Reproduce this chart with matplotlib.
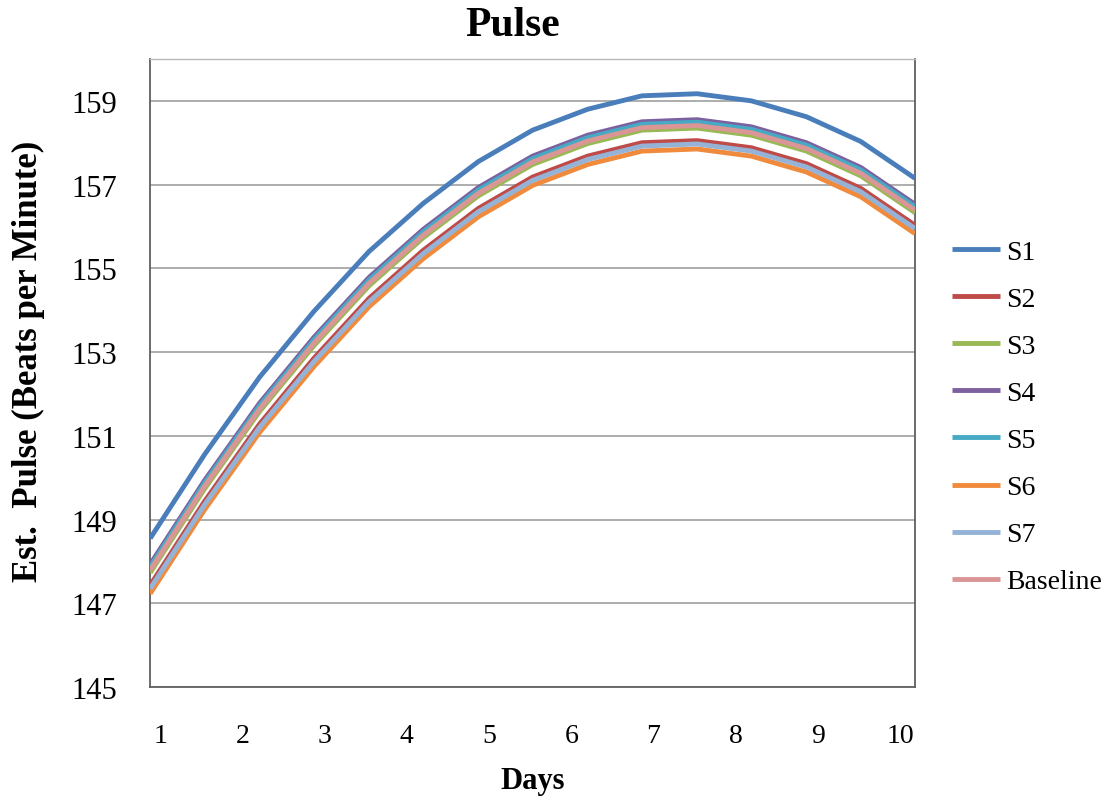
import matplotlib
matplotlib.use("Agg")
import matplotlib.pyplot as plt

# ---- data ----
days = [0.88, 1.54, 2.21, 2.87, 3.54, 4.20, 4.87, 5.53,
        6.20, 6.86, 7.53, 8.19, 8.86, 9.52, 10.18]

s1 = [148.55, 150.55, 152.40, 153.97, 155.40, 156.55, 157.55, 158.30,
      158.80, 159.12, 159.17, 159.00, 158.62, 158.03, 157.15]
s2 = [147.43, 149.43, 151.28, 152.85, 154.28, 155.43, 156.43, 157.18,
      157.68, 158.00, 158.05, 157.88, 157.50, 156.91, 156.03]
s3 = [147.73, 149.73, 151.58, 153.15, 154.58, 155.73, 156.73, 157.48,
      157.98, 158.30, 158.35, 158.18, 157.80, 157.21, 156.33]
s4 = [147.93, 149.93, 151.78, 153.35, 154.78, 155.93, 156.93, 157.68,
      158.18, 158.50, 158.55, 158.38, 158.00, 157.41, 156.53]
s5 = [147.87, 149.87, 151.72, 153.29, 154.72, 155.87, 156.87, 157.62,
      158.12, 158.44, 158.49, 158.32, 157.94, 157.35, 156.47]
s6 = [147.23, 149.23, 151.08, 152.65, 154.08, 155.23, 156.23, 156.98,
      157.48, 157.80, 157.85, 157.68, 157.30, 156.71, 155.83]
s7 = [147.35, 149.35, 151.20, 152.77, 154.20, 155.35, 156.35, 157.10,
      157.60, 157.92, 157.97, 157.80, 157.42, 156.83, 155.95]
baseline = [147.79, 149.79, 151.64, 153.21, 154.64, 155.79, 156.79, 157.54,
            158.04, 158.36, 158.41, 158.24, 157.86, 157.27, 156.39]

series_names = ["S1", "S2", "S3", "S4", "S5", "S6", "S7", "Baseline"]
series_values = [s1, s2, s3, s4, s5, s6, s7, baseline]
colors = ["#4A7EBB", "#BE4B48", "#98B954", "#7D60A0",
          "#46AAC5", "#F08A3C", "#95B3D7", "#D99694"]

x_ticks = [1, 2, 3, 4, 5, 6, 7, 8, 9, 10]
y_ticks = [145, 147, 149, 151, 153, 155, 157, 159]

# ---- plot ----
plt.rcParams['font.family'] = ['Liberation Serif', 'DejaVu Serif']

fig = plt.figure(figsize=(11.13, 8.04), dpi=100)
ax = fig.add_axes([0.1348, 0.1443, 0.6873, 0.7811])

for name, vals, c in zip(series_names, series_values, colors):
    ax.plot(days, vals, color=c, linewidth=3.5, label=name,
            solid_capstyle='butt', solid_joinstyle='round', zorder=3)

ax.set_xlim(0.878, 10.18)
ax.set_ylim(145, 160)
ax.set_xticks(x_ticks)
ax.set_yticks(y_ticks)
ax.tick_params(axis='both', length=0)
ax.tick_params(axis='x', pad=26, labelsize=20)
ax.tick_params(axis='y', pad=24, labelsize=22)

ax.yaxis.grid(True, color='#A0A0A0', linewidth=1.2, zorder=1)
ax.set_axisbelow(True)

for side in ['left', 'bottom', 'right']:
    ax.spines[side].set_color('#606060')
    ax.spines[side].set_linewidth(1.3)
ax.spines['top'].set_color('#B8B8B8')
ax.spines['top'].set_linewidth(1.0)

fig.text(0.461, 0.968, 'Pulse', fontsize=30, fontweight='bold',
         ha='center', va='center')
ax.set_xlabel('Days', fontsize=22, fontweight='bold', labelpad=13)
fig.text(0.026, 0.55, 'Est.  Pulse (Beats per Minute)', fontsize=25,
         fontweight='bold', rotation=90, ha='center', va='center')

fig.legend(loc='upper left', bbox_to_anchor=(0.845, 0.715), frameon=False,
           fontsize=20, handlelength=1.75, handletextpad=0.2,
           labelspacing=0.78, borderaxespad=0)

fig.savefig('out.png', dpi=100)
